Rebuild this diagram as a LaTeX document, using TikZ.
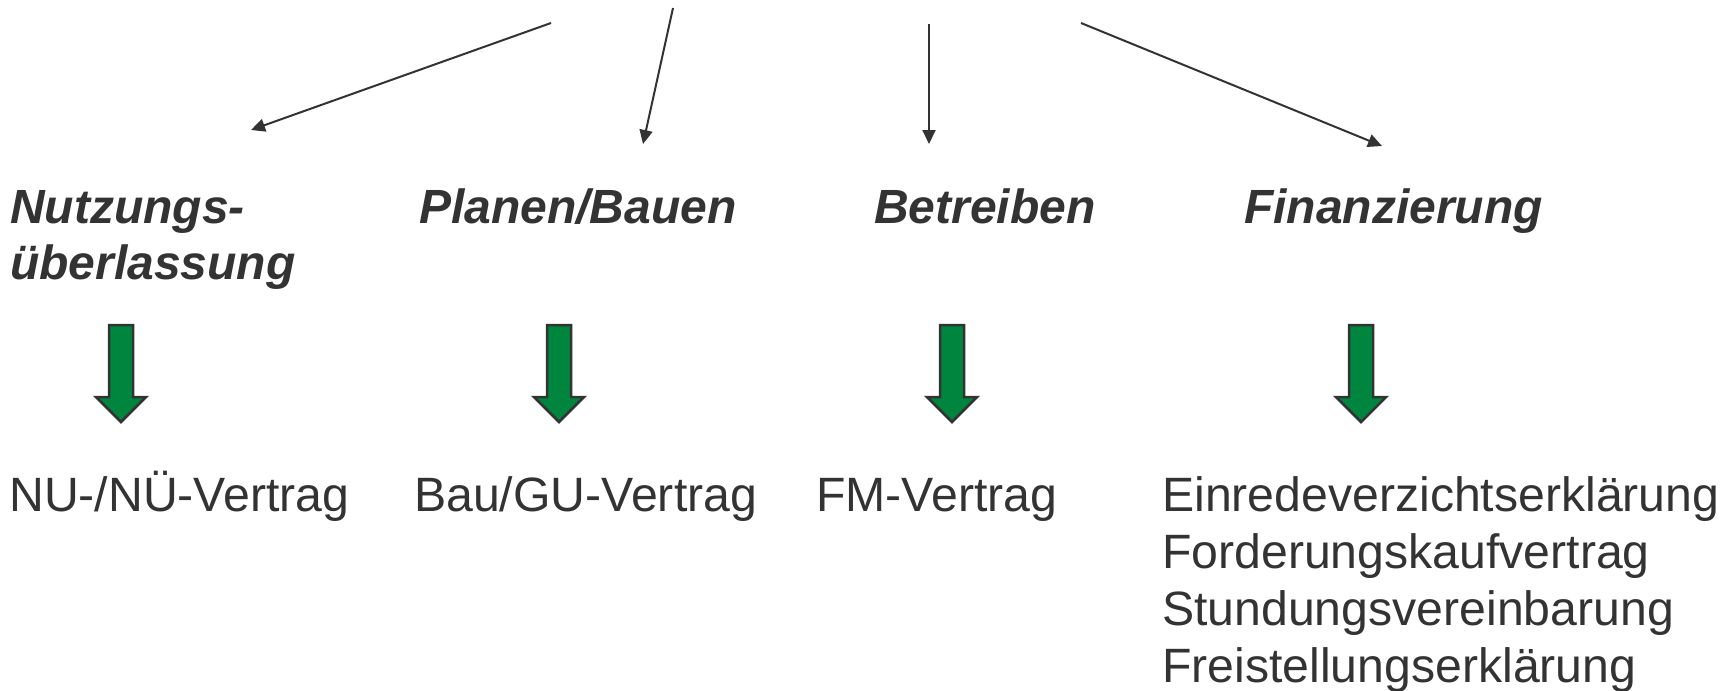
\documentclass[tikz,border=0pt]{standalone}
\usepackage{fontspec}
\setmainfont{Liberation Sans}
\usetikzlibrary{arrows.meta}
\definecolor{txt}{RGB}{51,51,51}
\definecolor{grn}{RGB}{0,133,62}
\begin{document}
\begin{tikzpicture}[x=1pt,y=-1pt,
 head/.style={anchor=base west,inner sep=0,text=txt,font=\fontsize{48}{57}\selectfont\bfseries\itshape},
 item/.style={anchor=base west,inner sep=0,text=txt,font=\fontsize{48.2}{57}\selectfont},
 link/.style={draw=txt,line width=2pt,-{Triangle[length=14pt,width=13pt]}},
 garrow/.pic={\filldraw[fill=grn,draw=txt,line width=2.5pt,line join=miter]
   (-12,0) -- (12,0) -- (12,72) -- (25,72) -- (0,97) -- (-25,72) -- (-12,72) -- cycle;}
]
\useasboundingbox (0,0) rectangle (1733,691);

% headings
\node[head] (nutz1) at (10,223) {Nutzungs-};
\node[head] (nutz2) at (10,279) {überlassung};
\node[head] (plan) at (419,223) {Planen/Bauen};
\node[head] (betr) at (874,223) {Betreiben};
\node[head] (fin) at (1244,223) {Finanzierung};

% contracts
\node[item] (nu) at (9,511) {NU-/NÜ-Vertrag};
\node[item] (bau) at (414,511) {Bau/GU-Vertrag};
\node[item] (fm) at (816,511) {FM-Vertrag};
\node[item] (f1) at (1162,511) {Einredeverzichtserklärung};
\node[item] (f2) at (1162,568) {Forderungskaufvertrag};
\node[item] (f3) at (1162,625) {Stundungsvereinbarung};
\node[item] (f4) at (1162,682) {Freistellungserklärung};

% thin arrows
\coordinate (s1) at (551,23);  \coordinate (e1) at (251,130);
\coordinate (s2) at (673,8);   \coordinate (e2) at (643,144);
\coordinate (s3) at (929,24);  \coordinate (e3) at (929,144);
\coordinate (s4) at (1081,23); \coordinate (e4) at (1382,146);
\draw[link] (s1) -- (e1);
\draw[link] (s2) -- (e2);
\draw[link] (s3) -- (e3);
\draw[link] (s4) -- (e4);

% green arrows
\pic at (121,325) {garrow};
\pic at (559,325) {garrow};
\pic at (952,325) {garrow};
\pic at (1361,325) {garrow};
\end{tikzpicture}
\end{document}
